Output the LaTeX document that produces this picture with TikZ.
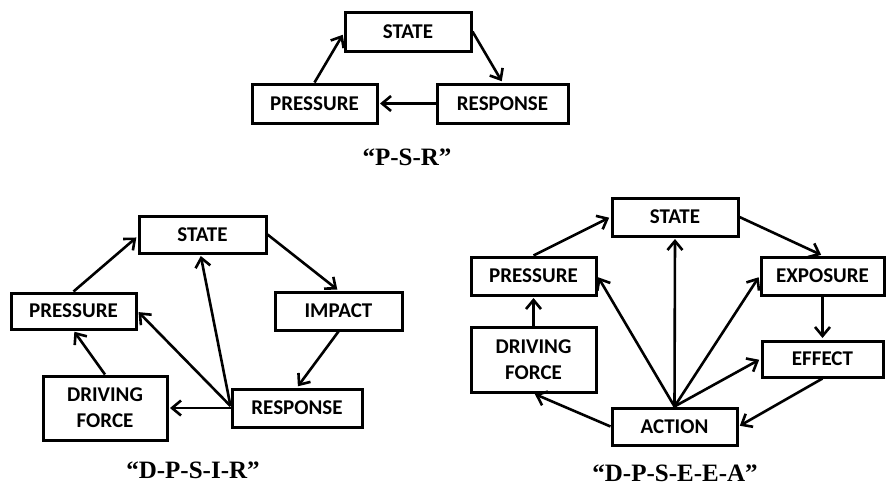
\documentclass[tikz,border=0pt]{standalone}
\usepackage{fontspec}
\setmainfont{Carlito}
\newfontfamily\captionfont{Liberation Serif}
\usetikzlibrary{arrows.meta}

\tikzset{
  box/.style={draw=black, line width=3pt, fill=white, inner sep=0pt,
    font=\bfseries\fontsize{21}{26}\selectfont, align=center},
  link/.style={draw=black, line width=2.6pt,
    -{Straight Barb[length=9pt, width=15pt, line width=2.6pt]}, shorten >=1.5pt},
  caption/.style={font=\captionfont\bfseries\fontsize{25}{27}\selectfont, inner sep=0pt}
}

\begin{document}
\begin{tikzpicture}[x=1pt, y=-1pt]
\useasboundingbox (0,0) rectangle (891,488);

% ---- P-S-R ----
\node[box, minimum width=126pt, minimum height=39pt] (s1) at (408,31.5) {STATE};
\node[box, minimum width=125pt, minimum height=39pt] (p1) at (314.5,103.5) {PRESSURE};
\node[box, minimum width=131pt, minimum height=39pt] (r1) at (502.5,103.5) {RESPONSE};
\draw[link] (p1.north) -- ([yshift=-2pt]s1.west);
\draw[link] (s1.east) -- (r1.north);
\draw[link] (r1.west) -- (p1.east);
\node[caption] (c1) at (407,157) {“P-S-R”};

% ---- D-P-S-I-R ----
\node[box, minimum width=127pt, minimum height=37pt] (s2) at (202.5,234.5) {STATE};
\node[box, minimum width=125pt, minimum height=36pt] (p2) at (73.5,311) {PRESSURE};
\node[box, minimum width=127pt, minimum height=38pt] (i2) at (338.5,311) {IMPACT};
\node[box, minimum width=124pt, minimum height=64pt] (d2) at (105,408) {DRIVING\\FORCE};
\node[box, minimum width=130pt, minimum height=38pt] (r2) at (297,408) {RESPONSE};
\draw[link] (p2.north) -- ([yshift=-2pt]s2.west);
\draw[link] (s2.east) -- (i2.north);
\draw[link] (i2.south) -- (r2.north);
\draw[link] (r2.west) -- (d2.east);
\draw[link] ([yshift=2pt]r2.west) -- (p2.east);
\draw[link] ([yshift=2pt]r2.west) -- ([xshift=-2pt]s2.south);
\draw[link] (d2.north) -- (p2.south);
\node[caption] (c2) at (193,470) {“D-P-S-I-R”};

% ---- D-P-S-E-E-A ----
\node[box, minimum width=126pt, minimum height=38pt] (s3) at (675,217) {STATE};
\node[box, minimum width=125pt, minimum height=38pt] (p3) at (533.5,276) {PRESSURE};
\node[box, minimum width=123pt, minimum height=38pt] (e3) at (822.5,276) {EXPOSURE};
\node[box, minimum width=125pt, minimum height=65pt] (d3) at (533.5,359.5) {DRIVING\\FORCE};
\node[box, minimum width=121pt, minimum height=36pt] (f3) at (822.5,359) {EFFECT};
\node[box, minimum width=125pt, minimum height=37pt] (a3) at (674.5,426.5) {ACTION};
\draw[link] (p3.north) -- (s3.west);
\draw[link] (s3.east) -- (e3.north);
\draw[link] (e3.south) -- (f3.north);
\draw[link] (f3.south) -- (a3.east);
\draw[link] (a3.west) -- (d3.south);
\draw[link] (d3.north) -- (p3.south);
\draw[link] (a3.north) -- (s3.south);
\draw[link] (a3.north) -- (p3.east);
\draw[link] (a3.north) -- (e3.west);
\draw[link] (a3.north) -- (f3.west);
\node[caption] (c3) at (675,473) {“D-P-S-E-E-A”};
\end{tikzpicture}
\end{document}
